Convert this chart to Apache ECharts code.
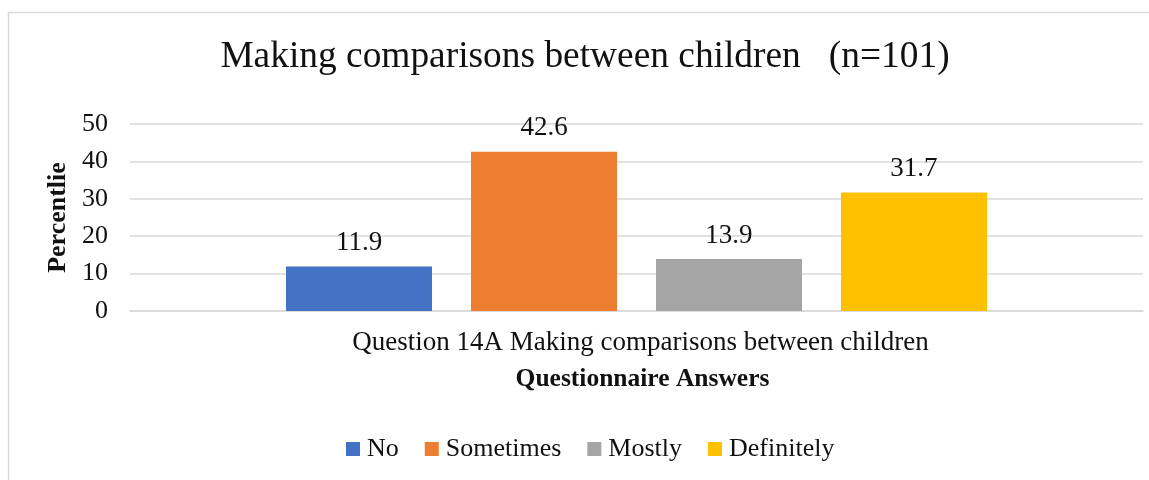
<!DOCTYPE html>
<html>
<head>
<meta charset="utf-8">
<script src="https://cdn.jsdelivr.net/npm/echarts@6/dist/echarts.min.js"></script>
<style>
  html, body { margin: 0; padding: 0; background: #fff; }
  #chart { width: 1149px; height: 480px; }
</style>
</head>
<body>
<div id="chart"></div>
<script>
// Survey question and answer shares (percent of respondents)
const categories = ['Question 14A Making comparisons between children'];
const answerNames = ['No', 'Sometimes', 'Mostly', 'Definitely'];
const answerValues = [11.9, 42.6, 13.9, 31.7];
const answerColors = ['#4472C4', '#ED7D31', '#A5A5A5', '#FFC000'];
const yTicks = { min: 0, max: 50, interval: 10 };

const serif = '"Liberation Serif", "DejaVu Serif", serif';

const series = answerNames.map((name, i) => ({
  name: name,
  type: 'bar',
  data: [answerValues[i]],
  barGap: '26.7%',
  barCategoryGap: '30.8%',
  itemStyle: { color: answerColors[i] },
  label: {
    show: true,
    position: 'top',
    distance: 10,
    color: '#111',
    fontFamily: serif,
    fontSize: 27
  }
}));

const chart = echarts.init(document.getElementById('chart'));
chart.setOption({
  animation: false,
  title: {
    text: 'Making comparisons between children   (n=101)',
    left: 580,
    textAlign: 'center',
    top: 34,
    textStyle: { fontFamily: serif, fontWeight: 'normal', fontSize: 37.4, color: '#111' }
  },
  graphic: [{
    type: 'rect',
    shape: { x: 8.5, y: 12.5, width: 1300, height: 600 },
    style: { fill: 'none', stroke: '#d9d9d9', lineWidth: 1.5 },
    silent: true,
    z: -10
  }],
  legend: {
    data: answerNames,
    bottom: 13,
    left: 341,
    icon: 'rect',
    itemWidth: 14,
    itemHeight: 14,
    itemGap: 26,
    textStyle: { fontFamily: serif, fontSize: 26, color: '#111', padding: [0, 0, 0, 2] }
  },
  grid: { left: 130, right: 6, top: 124, bottom: 169 },
  xAxis: {
    type: 'category',
    data: categories,
    name: 'Questionnaire Answers',
    nameLocation: 'middle',
    nameGap: 55,
    nameTextStyle: { fontFamily: serif, fontSize: 25.5, fontWeight: 'bold', color: '#111', padding: [0, 0, 0, 12] },
    axisLine: { show: true, lineStyle: { color: '#d9d9d9', width: 1.5 } },
    axisTick: { show: false },
    axisLabel: { fontFamily: serif, fontSize: 27, color: '#111', margin: 18, padding: [0, 0, 0, 8] }
  },
  yAxis: {
    type: 'value',
    min: yTicks.min,
    max: yTicks.max,
    interval: yTicks.interval,
    name: 'Percentlie',
    nameLocation: 'middle',
    nameGap: 59,
    nameTextStyle: { fontFamily: serif, fontSize: 26, fontWeight: 'bold', color: '#111' },
    axisLine: { show: false },
    axisTick: { show: false },
    axisLabel: { fontFamily: serif, fontSize: 26, color: '#111', margin: 22 },
    splitLine: { lineStyle: { color: '#d9d9d9', width: 1.5 } }
  },
  series: series
});
</script>
</body>
</html>
